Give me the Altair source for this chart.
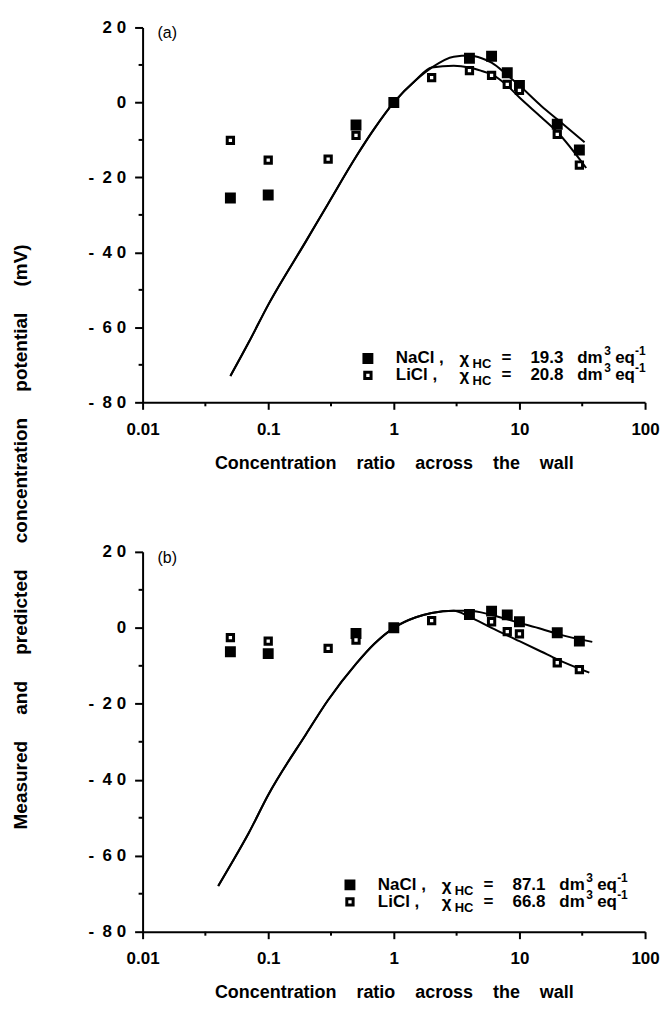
import altair as alt
import pandas as pd

FONT = "Liberation Sans"

# ---------------- data: panel (a) ----------------
a_nacl_x = [0.05, 0.1, 0.5, 1, 4, 6, 8, 10, 20, 30]
a_nacl_y = [-25.5, -24.7, -6.0, 0.0, 11.8, 12.3, 7.9, 4.5, -5.8, -12.7]
a_licl_x = [0.05, 0.1, 0.3, 0.5, 2, 4, 6, 8, 10, 20, 30]
a_licl_y = [-10.1, -15.4, -15.1, -8.8, 6.6, 8.5, 7.2, 4.8, 3.2, -8.5, -16.7]
a_common_x = [0.05, 0.07, 0.1, 0.2, 0.3, 0.5, 0.7, 1, 1.5, 2]
a_common_y = [-73, -64, -54, -37, -27, -14.5, -7, 0, 6, 9.3]
a_nacl_fit_x = [3, 4, 5, 6, 8, 10, 15, 20, 33]
a_nacl_fit_y = [12.2, 12.5, 11.8, 10.6, 7.3, 4.5, -1.0, -4.5, -10.6]
a_licl_fit_x = [3, 4, 5, 6, 8, 10, 15, 20, 34]
a_licl_fit_y = [9.8, 9.3, 8.4, 7.5, 4.5, 1.3, -4.0, -7.9, -17.5]

# ---------------- data: panel (b) ----------------
b_nacl_x = [0.05, 0.1, 0.5, 1, 4, 6, 8, 10, 20, 30]
b_nacl_y = [-6.3, -6.8, -1.5, 0.0, 3.5, 4.4, 3.4, 1.6, -1.3, -3.5]
b_licl_x = [0.05, 0.1, 0.3, 0.5, 2, 6, 8, 10, 20, 30]
b_licl_y = [-2.6, -3.5, -5.4, -3.2, 1.9, 1.6, -1.0, -1.6, -9.2, -11.0]
b_common_x = [0.04, 0.05, 0.07, 0.1, 0.2, 0.3, 0.5, 0.7, 1, 1.5, 2, 3]
b_common_y = [-68, -62.5, -54, -44, -28, -19, -9.5, -4.2, 0, 2.8, 3.9, 4.5]
b_nacl_fit_x = [4, 6, 10, 15, 20, 38]
b_nacl_fit_y = [4.5, 3.4, 1.3, -0.3, -1.6, -3.7]
b_licl_fit_x = [4, 6, 10, 15, 20, 36]
b_licl_fit_y = [2.9, 0.0, -3.5, -6.3, -8.3, -11.8]

# ---------------- axes / labels ----------------
x_ticks = [0.01, 0.1, 1, 10, 100]
x_minor = [0.0316, 0.316, 3.16, 31.6]
y_ticks = [-80, -60, -40, -20, 0, 20]
y_minor = [-70, -50, -30, -10, 10]
XGAP = "\u00a0\u00a0\u00a0 "
YGAP = "\u00a0\u00a0\u00a0\u00a0 "
X_TITLE = XGAP.join(["Concentration", "ratio", "across", "the", "wall"])
Y_TITLE = YGAP.join(["Measured", "and", "predicted", "concentration", "potential", "(mV)"])
a_chi = ["19.3", "20.8"]
b_chi = ["87.1", "66.8"]

W = 504

Y_LABEL_EXPR = (
    "datum.value == 0 ? '0' : (datum.value < 0 ? '-\u2002' : '') + "
    "substring(toString(abs(datum.value)),0,1) + ' ' + substring(toString(abs(datum.value)),1,2)"
)


def txt(s, x, y, size=17, weight="bold", baseline="middle", align="left"):
    return alt.Chart(pd.DataFrame({"t": [s]})).mark_text(
        align=align, baseline=baseline, fontSize=size, fontWeight=weight,
        font=FONT, color="black"
    ).encode(x=alt.value(x), y=alt.value(y), text="t:N")


def legend_row(name, chi, x0, y, filled):
    sym_df = pd.DataFrame({"t": [name]})
    if filled:
        sym = alt.Chart(sym_df).mark_point(shape="square", filled=True, fill="black",
                                           stroke="black", size=80, opacity=1)
    else:
        sym = alt.Chart(sym_df).mark_point(shape="square", filled=True, fill="white",
                                           stroke="black", strokeWidth=3, size=40, opacity=1)
    sym = sym.encode(x=alt.value(x0), y=alt.value(y))
    return [
        sym,
        txt(name + " ,", x0 + 28, y),
        txt("\u03c7", x0 + 92, y + 1),
        txt("HC", x0 + 105, y + 6, size=13),
        txt("=", x0 + 134, y),
        txt(chi, x0 + 163, y),
        txt("dm", x0 + 210, y),
        txt("3", x0 + 237, y - 7, size=12),
        txt("eq", x0 + 248, y),
        txt("-1", x0 + 268, y - 7, size=12),
    ]


def make_panel(tag, h, nx, ny, lx, ly, cx, cy, nfx, nfy, lfx, lfy, chis, leg_x0, leg_y0):
    xs = alt.Scale(type="log", domain=[0.01, 100], nice=False)
    ys = alt.Scale(domain=[-80, 20], nice=False, zero=False)
    xax = alt.Axis(values=x_ticks, format="~g", title=X_TITLE, grid=False,
                   tickSize=7, labelPadding=12, titlePadding=17, labelFlush=False)
    yax = alt.Axis(values=y_ticks, labelExpr=Y_LABEL_EXPR, title=None, grid=False,
                   tickSize=8, labelPadding=9)
    X = alt.X("x:Q", scale=xs, axis=xax)
    Y = alt.Y("y:Q", scale=ys, axis=yax)

    fit_df = pd.DataFrame({
        "x": cx + nfx + cx + lfx,
        "y": cy + nfy + cy + lfy,
        "s": ["NaCl"] * (len(cx) + len(nfx)) + ["LiCl"] * (len(cx) + len(lfx)),
    })
    lines = alt.Chart(fit_df).mark_line(color="black", strokeWidth=2,
                                        interpolate="monotone").encode(x=X, y=Y, detail="s:N")

    nacl = alt.Chart(pd.DataFrame({"x": nx, "y": ny})).mark_point(
        shape="square", filled=True, fill="black", stroke="black", size=80, opacity=1
    ).encode(x=X, y=Y)
    licl = alt.Chart(pd.DataFrame({"x": lx, "y": ly})).mark_point(
        shape="square", filled=True, fill="white", stroke="black", strokeWidth=3,
        size=40, opacity=1
    ).encode(x=X, y=Y)

    ymin = alt.Chart(pd.DataFrame({"y": y_minor})).mark_rule(
        color="black", strokeWidth=2
    ).encode(y=Y, x=alt.value(-4), x2=alt.value(0))
    xmin = alt.Chart(pd.DataFrame({"x": x_minor})).mark_rule(
        color="black", strokeWidth=2
    ).encode(x=X, y=alt.value(h), y2=alt.value(h + 4))

    layers = [lines, ymin, xmin, nacl, licl, txt(tag, 15, 6, size=16, weight="normal")]
    layers += legend_row("NaCl", chis[0], leg_x0, leg_y0, True)
    layers += legend_row("LiCl", chis[1], leg_x0, leg_y0 + 17, False)
    return alt.layer(*layers).properties(width=W, height=h)


pa = make_panel("(a)", 376, a_nacl_x, a_nacl_y, a_licl_x, a_licl_y,
                a_common_x, a_common_y, a_nacl_fit_x, a_nacl_fit_y,
                a_licl_fit_x, a_licl_fit_y, a_chi, 226, 332)
pb = make_panel("(b)", 381, b_nacl_x, b_nacl_y, b_licl_x, b_licl_y,
                b_common_x, b_common_y, b_nacl_fit_x, b_nacl_fit_y,
                b_licl_fit_x, b_licl_fit_y, b_chi, 208, 334)

chart = alt.vconcat(pa, pb, spacing=150, bounds="flush").properties(
    title=alt.TitleParams(text=Y_TITLE, orient="left", anchor="middle", fontSize=19,
                          fontWeight="bold", font=FONT, color="black", offset=57, dx=-27),
    padding={"top": 9, "left": 4, "right": 4, "bottom": 0},
).configure_view(stroke=None).configure_axis(
    domainColor="black", domainWidth=2, tickColor="black", tickWidth=2,
    labelFont=FONT, labelFontSize=17, labelFontWeight="bold", labelColor="black",
    titleFont=FONT, titleFontSize=18, titleFontWeight="bold", titleColor="black",
)

chart.save("out.html", embed_options={"renderer": "svg", "actions": False})
